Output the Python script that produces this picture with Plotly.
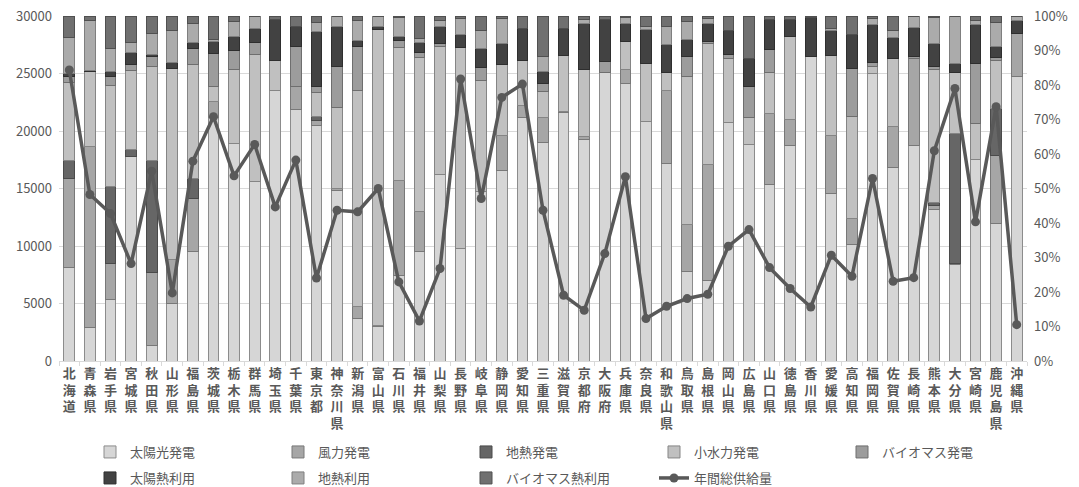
import plotly.graph_objects as go

prefectures = ["北海道","青森県","岩手県","宮城県","秋田県","山形県","福島県","茨城県","栃木県","群馬県",
               "埼玉県","千葉県","東京都","神奈川県","新潟県","富山県","石川県","福井県","山梨県","長野県",
               "岐阜県","静岡県","愛知県","三重県","滋賀県","京都府","大阪府","兵庫県","奈良県","和歌山県",
               "鳥取県","島根県","岡山県","広島県","山口県","徳島県","香川県","愛媛県","高知県","福岡県",
               "佐賀県","長崎県","熊本県","大分県","宮崎県","鹿児島県","沖縄県"]

# shares (%) of each energy source
solar_power = [27.0,9.7,17.8,59.2,4.5,16.6,31.8,70.6,63.1,51.9,78.5,72.9,68.4,49.5,12.3,9.9,24.9,31.6,54.2,32.6,
               49.0,55.1,70.6,63.2,72.0,64.2,83.6,80.5,69.3,57.3,26.0,23.2,69.1,62.8,51.3,62.6,88.2,48.5,33.8,83.4,
               56.1,62.6,43.9,28.0,58.4,39.8,82.4]
wind_power = [25.9,52.6,10.4,0,21.1,12.8,15.3,4.5,0,0,0,6.8,1.2,0.5,3.6,0.5,27.3,11.6,0,0,
              0,10.4,3.6,7.4,0.3,0.8,0,4.0,0,21.0,13.6,33.9,0,0,20.5,7.4,0,17.0,7.5,0,
              11.8,25.1,1.3,0.4,0,19.9,12.6]
geo_power = [5.1,0,22.5,2.1,32.6,0,5.8,0,0,0,0,0,1.2,0,0,0,0,0,0,0,
             0,0,0,0,0,0,0,0,0,0,0,0,0,0,0,0,0,0,0,0,
             0,0,0.6,37.4,0,13.5,0]
hydro_power = [22.8,21.7,29.2,23.0,27.3,55.4,32.9,4.6,21.4,36.8,8.5,0,7.0,23.5,62.4,85.7,38.7,44.8,36.9,58.3,
               32.4,20.3,13.0,7.6,16.2,19.5,0,8.1,16.8,5.3,43.0,35.0,18.6,7.8,11.8,24.0,0,23.0,29.7,1.9,
               19.8,0,38.7,17.8,10.5,14.0,0]
bio_power = [1.6,0,2.5,1.5,2.7,0,4.8,9.5,5.6,3.7,0,11.4,1.7,12.0,12.8,0,1.9,1.4,1.0,0,
             3.7,0,0,2.1,0,0,3.2,0,0,0,5.8,0.5,1.0,9.1,6.7,0,0,0,13.8,1.2,
             0,0.7,1.0,0,17.2,0.9,0]
solar_heat = [0.8,0.3,1.6,3.7,0.5,1.8,1.8,3.4,4.1,4.0,12.0,6.0,16.0,11.4,1.7,0.8,1.4,2.9,5.0,3.6,
              5.5,6.3,9.2,3.5,7.9,13.4,12.2,5.3,10.0,8.0,4.8,5.1,7.2,8.0,8.7,5.0,11.4,7.2,9.7,10.9,
              6.1,8.3,6.4,2.5,11.3,3.0,3.8]
geo_heat = [10.5,14.5,6.6,2.8,6.3,9.1,5.5,0.5,4.2,3.6,0,0,2.6,3.1,5.8,3.1,5.4,1.2,1.5,4.8,
            5.1,7.2,0,4.4,0,1.1,0,1.7,1.0,5.5,5.2,1.6,0,0,0,0,0,0.7,0,1.9,
            1.9,3.3,7.7,13.9,1.2,7.0,1.2]
bio_heat = [6.3,1.2,9.4,7.7,5.0,4.3,2.1,6.9,1.6,0,1.0,2.9,1.9,0,1.4,0,0.4,6.5,1.4,0.7,
            4.3,0.7,3.6,11.8,3.6,1.0,1.0,0.4,2.9,2.9,1.6,0.7,4.1,12.3,1.0,1.0,0.4,3.6,5.5,0.7,
            4.3,0,0.4,0,1.4,1.9,0]
annual_supply = [25300,14480,12820,8470,16510,5920,17380,21240,16100,18830,13400,17470,7220,13110,12970,15000,
                 6880,3480,8040,24520,14130,22920,24080,13110,5720,4410,9340,16020,3690,4760,5430,5800,
                 9980,11430,8120,6300,4700,9200,7370,15870,6930,7250,18280,23700,12100,22110,3160]

series_names = ["太陽光発電","風力発電","地熱発電","小水力発電","バイオマス発電","太陽熱利用","地熱利用","バイオマス熱利用"]
series_values = [solar_power, wind_power, geo_power, hydro_power, bio_power, solar_heat, geo_heat, bio_heat]
fill_colors = ["#d6d6d6","#a6a6a6","#666666","#c0c0c0","#9c9c9c","#424242","#ababab","#707070"]
edge_colors = ["#8c8c8c","#787878","#4a4a4a","#858585","#6e6e6e","#2e2e2e","#7f7f7f","#505050"]
line_name = "年間総供給量"

FONT = "Noto Sans CJK JP"
TXT = "#595959"

fig = go.Figure()
for i, (name, vals) in enumerate(zip(series_names, series_values)):
    fig.add_trace(go.Bar(
        x=prefectures, y=[v / 100 for v in vals], name=name,
        marker=dict(color=fill_colors[i], line=dict(color=edge_colors[i], width=1)),
        yaxis="y", legend="legend" if i < 5 else "legend2",
    ))

fig.add_trace(go.Scatter(
    x=prefectures, y=annual_supply, name=line_name, mode="lines+markers",
    line=dict(color="#595959", width=3.5),
    marker=dict(color="#595959", size=9),
    yaxis="y2", legend="legend2",
))

ticktext = ["<br>".join(list(p)) for p in prefectures]

legend_common = dict(
    orientation="h", xref="container", yref="container", xanchor="left", yanchor="top",
    entrywidth=143, entrywidthmode="pixels", traceorder="normal",
    font=dict(family=FONT, size=13, color=TXT), bgcolor="rgba(0,0,0,0)",
)

fig.update_layout(
    width=1079, height=487,
    margin=dict(l=59, r=52, t=16, b=126),
    paper_bgcolor="white", plot_bgcolor="white",
    barmode="stack", bargap=0.48,
    font=dict(family=FONT, size=13, color=TXT),
    xaxis=dict(
        tickmode="array", tickvals=prefectures, ticktext=ticktext, automargin=False,
        tickangle=0, tickfont=dict(family=FONT, size=13, color=TXT, weight="bold"),
        showline=True, linecolor="#d9d9d9", linewidth=1,
        ticks="outside", tickson="boundaries", ticklen=4, tickcolor="#d9d9d9",
        showgrid=False, range=[-0.5, 46.5],
    ),
    yaxis=dict(
        side="right", range=[0, 1], dtick=0.1, tickformat=".0%", automargin=False,
        showgrid=False, zeroline=False, showline=False,
        tickfont=dict(family=FONT, size=13, color=TXT), ticks="", ticklabelstandoff=6,
    ),
    yaxis2=dict(
        overlaying="y", side="left", range=[0, 30000], dtick=5000, tickformat="d", automargin=False,
        showgrid=True, gridcolor="#d9d9d9", gridwidth=1, zeroline=False, showline=False,
        tickfont=dict(family=FONT, size=13, color=TXT), ticks="", ticklabelstandoff=6,
    ),
    legend=dict(legend_common, x=90 / 1079, y=1 - 437 / 487),
    legend2=dict(legend_common, x=90 / 1079, y=1 - 463 / 487),
)

fig.write_html("out.html")
